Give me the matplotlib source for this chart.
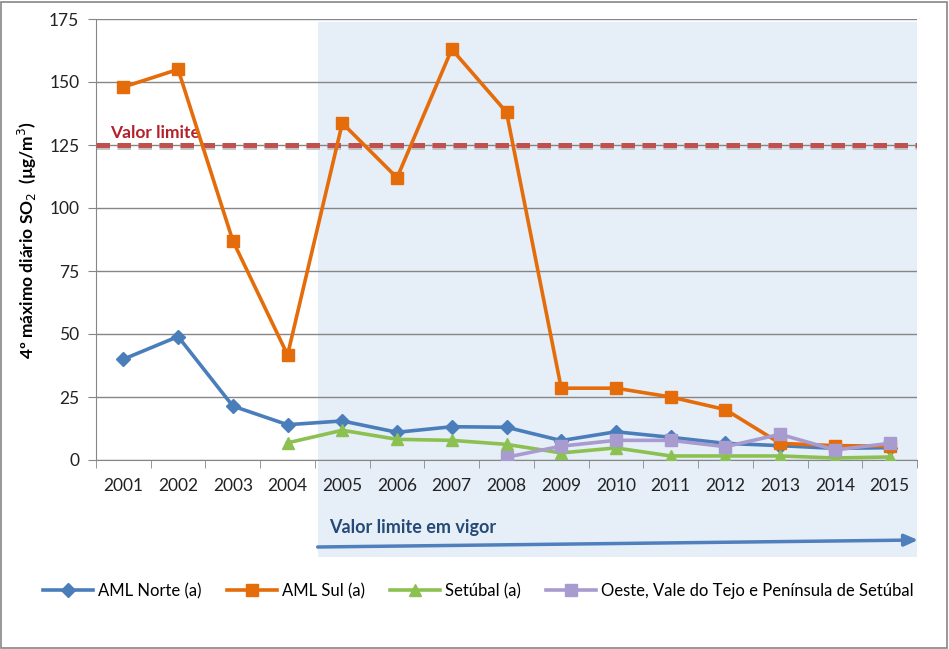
import matplotlib
matplotlib.use("Agg")
import matplotlib.pyplot as plt
import matplotlib.transforms as mtransforms
from matplotlib.patches import Rectangle
import numpy as np

plt.rcParams['font.family'] = ['Lato', 'DejaVu Sans']

years = ['2001', '2002', '2003', '2004', '2005', '2006', '2007', '2008',
         '2009', '2010', '2011', '2012', '2013', '2014', '2015']
aml_norte = [40, 49, 21.4, 14, 15.5, 11, 13.2, 13, 7.7, 11.2, 9, 6.6, 5.7, 4.6, 4.9]
aml_sul = [148, 155, 87, 41.7, 133.7, 112, 163, 138, 28.5, 28.5, 25, 20, 6.6, 5.7, 5.5]
setubal = [None, None, None, 6.8, 11.8, 8.2, 7.8, 6.2, 2.8, 4.8, 1.6, 1.6, 1.6, 0.8, 1.2]
oeste = [None, None, None, None, None, None, None, 1.1, 5.5, 7.8, 7.8, 5.3, 10.2, 4.0, 6.6]
valor_limite = 125
y_ticks = [0, 25, 50, 75, 100, 125, 150, 175]

def arr(v):
    return np.array([np.nan if a is None else a for a in v], dtype=float)

fig = plt.figure(figsize=(9.49, 6.49), dpi=100)
ax = fig.add_axes([96/949, 1 - 460/649, 821/949, 441/649])

x = np.arange(len(years))
ax.set_xlim(-0.5, len(years) - 0.5)
ax.set_ylim(0, 175)

# shaded "in force" region
trans = mtransforms.blended_transform_factory(ax.transData, ax.transAxes)
start = 3.5 + 0.05
rect = Rectangle((start, (460 - 557) / 441), len(years) - 0.5 - start, (557 - 22) / 441,
                 transform=trans, facecolor='#e6eef8', edgecolor='none',
                 clip_on=False, zorder=0)
ax.add_patch(rect)

# grid
ax.set_yticks(y_ticks)
ax.yaxis.grid(True, color='#868686', linewidth=1.0, zorder=1)
ax.set_axisbelow(True)

# limit line with shadow
ax.axhline(valor_limite - 0.7, color='#b7b7b7', linewidth=3.6, linestyle=(0, (2.7, 1.5)), zorder=2, alpha=0.8)
ax.axhline(valor_limite, color='#c0504d', linewidth=3.6, linestyle=(0, (2.7, 1.5)), zorder=3)
ax.text(-0.25, valor_limite + 1.5, 'Valor limite', color='#b3202a',
        fontsize=12.5, fontweight='bold', ha='left', va='bottom', zorder=4)

ms = 8.5
ax.plot(x, arr(aml_norte), color='#4a7ebb', linewidth=2.6, marker='D', markersize=7.5,
        label='AML Norte (a)', zorder=5)
ax.plot(x, arr(aml_sul), color='#e46c0a', linewidth=2.6, marker='s', markersize=ms,
        label='AML Sul (a)', zorder=6)
ax.plot(x, arr(setubal), color='#8cc152', linewidth=2.6, marker='^', markersize=ms,
        label='Setúbal (a)', zorder=5)
ax.plot(x, arr(oeste), color='#a89bcf', linewidth=2.6, marker='s', markersize=ms,
        label='Oeste, Vale do Tejo e Península de Setúbal', zorder=7)

# axes styling
for s in ['top', 'right']:
    ax.spines[s].set_visible(False)
ax.spines['left'].set_color('#868686')
ax.spines['bottom'].set_color('#868686')
ax.set_xticks(x)
ax.set_xticklabels(years)
ax.set_xticks(np.arange(-0.5, len(years), 1), minor=True)
ax.tick_params(axis='x', which='major', length=0, pad=13, labelsize=12.5)
ax.tick_params(axis='x', which='minor', length=6, color='#868686', direction='out')
ax.tick_params(axis='y', length=6, color='#868686', labelsize=12.5, pad=6)
for lab in ax.get_xticklabels() + ax.get_yticklabels():
    lab.set_color('#222222')

ax.set_ylabel('4º máximo diário SO$_2$  (µg/m$^3$)', fontsize=12.5, fontweight='bold', labelpad=7)

# arrow and text
ax.annotate('', xy=(len(years) - 0.5 + 0.02, (460 - 540) / 441), xycoords=trans,
            xytext=(start, (460 - 547) / 441), textcoords=trans,
            arrowprops=dict(arrowstyle='-|>,head_length=0.8,head_width=0.35',
                            color='#4f7fbd', linewidth=2.5, shrinkA=0, shrinkB=0),
            annotation_clip=False)
ax.text(start + 0.2, (460 - 527) / 441, 'Valor limite em vigor', transform=trans,
        color='#254a78', fontsize=13, fontweight='bold', ha='left', va='center')

leg = fig.legend(loc='center', bbox_to_anchor=(0.504, 1 - 591/649), ncol=4, frameon=False,
                 fontsize=12, handlelength=3.0, columnspacing=1.5, handletextpad=0.3)

# figure border
fig.patches.append(Rectangle((1/949, 1/649), 1 - 3/949, 1 - 3/649, transform=fig.transFigure,
                             fill=False, edgecolor='#868686', linewidth=1.2))

fig.savefig('out.png', dpi=100)
